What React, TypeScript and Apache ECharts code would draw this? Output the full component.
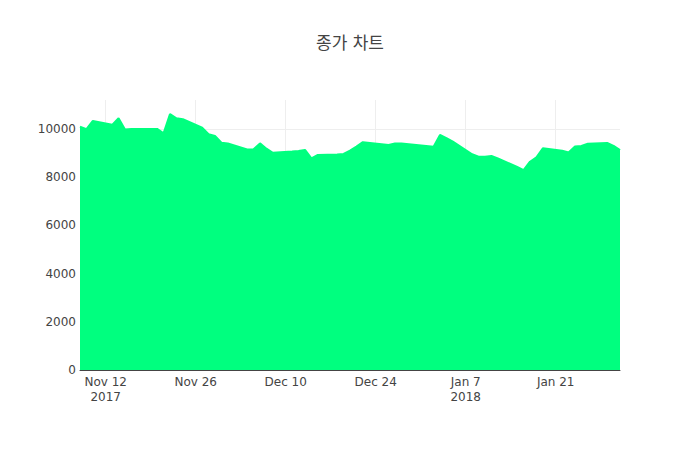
import * as echarts from 'echarts'
import { useEffect, useRef } from 'react'

// 거래일 (주말/휴장일 제외)
const dates = [
  '2017-11-08', '2017-11-09', '2017-11-10', '2017-11-13', '2017-11-14', '2017-11-15',
  '2017-11-16', '2017-11-17', '2017-11-20', '2017-11-21', '2017-11-22', '2017-11-23',
  '2017-11-24', '2017-11-27', '2017-11-28', '2017-11-29', '2017-11-30', '2017-12-01',
  '2017-12-04', '2017-12-05', '2017-12-06', '2017-12-07', '2017-12-08', '2017-12-11',
  '2017-12-12', '2017-12-13', '2017-12-14', '2017-12-15', '2017-12-18', '2017-12-19',
  '2017-12-20', '2017-12-21', '2017-12-22', '2017-12-26', '2017-12-27', '2017-12-28',
  '2018-01-02', '2018-01-03', '2018-01-04', '2018-01-05', '2018-01-08', '2018-01-09',
  '2018-01-10', '2018-01-11', '2018-01-12', '2018-01-15', '2018-01-16', '2018-01-17',
  '2018-01-18', '2018-01-19', '2018-01-22', '2018-01-23', '2018-01-24', '2018-01-25',
  '2018-01-26', '2018-01-29', '2018-01-30', '2018-01-31',
]

const closes = [
  10090, 9990, 10330, 10170, 10440, 9980,
  10000, 10000, 10000, 9820, 10620, 10440,
  10400, 10050, 9780, 9710, 9430, 9400,
  9150, 9160, 9400, 9180, 9010, 9060,
  9080, 9130, 8780, 8920, 8940, 8960,
  9100, 9270, 9450, 9330, 9400, 9400,
  9260, 9750, 9620, 9470, 8950, 8850,
  8850, 8880, 8780, 8420, 8290, 8640,
  8820, 9200, 9100, 9020, 9270, 9290,
  9390, 9420, 9300, 9120,
]

const xTickDates = ['2017-11-12', '2017-11-26', '2017-12-10', '2017-12-24', '2018-01-07', '2018-01-21']
const xTickLabels = ['Nov 12\n2017', 'Nov 26', 'Dec 10', 'Dec 24', 'Jan 7\n2018', 'Jan 21']
const yTicks = [0, 2000, 4000, 6000, 8000, 10000]

const toTs = (s: string) => {
  const [y, m, d] = s.split('-').map(Number)
  return Date.UTC(y, m - 1, d)
}

const font = '"DejaVu Sans", Verdana, "Noto Sans CJK KR", sans-serif'

export default function App() {
  const ref = useRef<HTMLDivElement>(null)

  useEffect(() => {
    if (!ref.current) return
    document.body.style.margin = '0'
    const chart = echarts.init(ref.current, null, { renderer: 'svg' })
    const tickTs = xTickDates.map(toTs)

    chart.setOption({
      animation: false,
      backgroundColor: '#fff',
      textStyle: { fontFamily: font },
      title: {
        text: '종가 차트',
        left: 'center',
        top: 34,
        padding: 0,
        textStyle: { fontFamily: font, fontSize: 17, fontWeight: 'normal', color: '#444' },
      },
      grid: { left: 80, right: 80, top: 100, bottom: 80 },
      xAxis: {
        type: 'value',
        min: toTs(dates[0]),
        max: toTs(dates[dates.length - 1]),
        axisLine: { show: true, lineStyle: { color: '#444', width: 1 } },
        axisTick: { show: false, customValues: tickTs },
        axisLabel: {
          customValues: tickTs,
          color: '#444',
          fontSize: 12,
          lineHeight: 15,
          margin: 4,
          formatter: (v: number) => {
            const i = tickTs.indexOf(v)
            return i >= 0 ? xTickLabels[i] : ''
          },
        },
        splitLine: { show: true, lineStyle: { color: '#eee', width: 1 } },
      },
      yAxis: {
        type: 'value',
        min: 0,
        max: 11200,
        axisLine: { show: false },
        axisTick: { show: false, customValues: yTicks },
        axisLabel: {
          customValues: yTicks,
          color: '#444',
          fontSize: 12,
          margin: 4,
          formatter: (v: number) => String(v),
        },
        splitLine: { show: true, lineStyle: { color: '#eee', width: 1 } },
      },
      series: [
        {
          type: 'line',
          data: dates.map((d, i) => [toTs(d), closes[i]]),
          showSymbol: false,
          lineStyle: { color: '#00ff7f', width: 2 },
          areaStyle: { color: '#00ff7f', opacity: 1 },
        },
      ],
    })

    return () => chart.dispose()
  }, [])

  return <div ref={ref} style={{ width: 700, height: 450 }} />
}
